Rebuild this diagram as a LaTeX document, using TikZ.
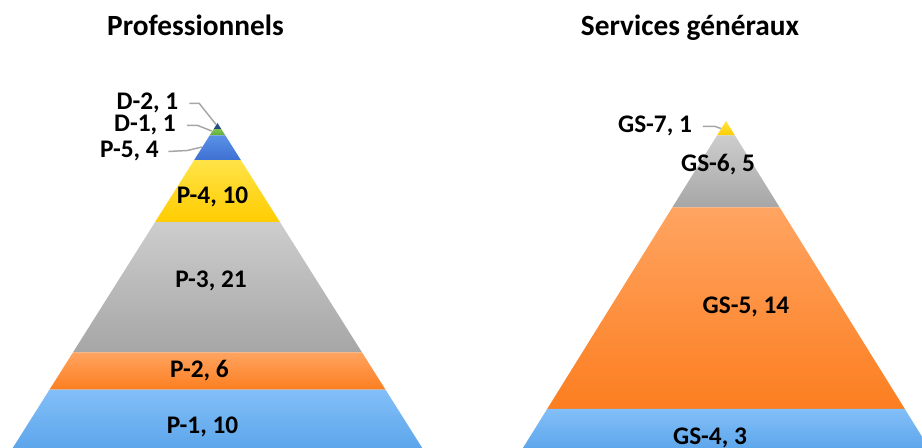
\documentclass[tikz,border=0pt]{standalone}
\usepackage{fontspec}
\setmainfont{Carlito}
\usetikzlibrary{positioning}

\definecolor{navyT}{HTML}{2F5597}
\definecolor{navyB}{HTML}{264478}
\definecolor{greenT}{HTML}{7CC552}
\definecolor{greenB}{HTML}{64AA3C}
\definecolor{royT}{HTML}{5A91E6}
\definecolor{royB}{HTML}{3E70D2}
\definecolor{yelT}{HTML}{FFE347}
\definecolor{yelB}{HTML}{FFCC00}
\definecolor{gryT}{HTML}{CDCDCD}
\definecolor{gryB}{HTML}{A6A6A6}
\definecolor{orgT}{HTML}{FFA461}
\definecolor{orgB}{HTML}{FC7E20}
\definecolor{bluT}{HTML}{83BFF8}
\definecolor{bluB}{HTML}{5AA4EA}
\definecolor{leadgray}{HTML}{A6A6A6}

\tikzset{
  ttl/.style={font=\bfseries\fontsize{22}{22}\selectfont, inner sep=0pt, anchor=base},
  lbl/.style={font=\bfseries\fontsize{19}{19}\selectfont, inner sep=0pt, anchor=base},
  leader/.style={draw=leadgray, line width=1.1pt}
}

\begin{document}
\begin{tikzpicture}[x=0.75pt, y=-0.75pt]
    \useasboundingbox (0,0) rectangle (922,448);
    \clip (0,0) rectangle (922,448);
    % Professionnels pyramid
    \begin{scope}[shift={(217.5,123)}]
        \foreach \t/\b/\col in {0/1/navy, 1/2/green, 2/6/roy, 6/16/yel, 16/37/gry, 37/43/org, 43/53/blu} {
            \pgfmathsetmacro{\yt}{6.2*\t}
            \pgfmathsetmacro{\yb}{6.2*\b}
            \shade [top color=\col T, bottom color=\col B] (-0.63*\yt,\yt) -- (0.63*\yt,\yt) -- (0.63*\yb,\yb) -- (-0.63*\yb,\yb) -- cycle;
        }
    \end{scope}
    % Services generaux pyramid
    \begin{scope}[shift={(726,121)}]
        \foreach \t/\b/\col in {0/1/yel, 1/6/gry, 6/20/org, 20/23/blu} {
            \pgfmathsetmacro{\yt}{14.4*\t}
            \pgfmathsetmacro{\yb}{14.4*\b}
            \shade [top color=\col T, bottom color=\col B] (-0.621*\yt,\yt) -- (0.621*\yt,\yt) -- (0.621*\yb,\yb) -- (-0.621*\yb,\yb) -- cycle;
        }
    \end{scope}
    % Titles
    \node [ttl] (titlepro) at (195.5,36) {Professionnels};
    \node [ttl] (titlegs) at (690,36) {Services généraux};
    % Labels
    \node [lbl] (d2) at (147.5,110) {D-2, 1};
    \node [lbl] (d1) at (145,132) {D-1, 1};
    \node [lbl] (p5) at (129.5,158) {P-5, 4};
    \node [lbl] (p4) at (212.5,204) {P-4, 10};
    \node [lbl] (p3) at (211,287.3) {P-3, 21};
    \node [lbl] (p2) at (199.5,378) {P-2, 6};
    \node [lbl] (p1) at (202.5,434) {P-1, 10};
    \node [lbl] (gs7) at (655,133) {GS-7, 1};
    \node [lbl] (gs6) at (718,172) {GS-6, 5};
    \node [lbl] (gs5) at (746,313.3) {GS-5, 14};
    \node [lbl] (gs4) at (710,445) {GS-4, 3};
    % Leader lines
    \coordinate (d2tip) at (216,124.5);
    \coordinate (d1tip) at (211.7,131);
    \coordinate (p5tip) at (202,147);
    \coordinate (gs7tip) at (721,128.5);
    \draw [leader] ([xshift=8pt]d2.east) -- ++(10,0) -- (d2tip);
    \draw [leader] ([xshift=8pt]d1.east) -- ++(11,0) -- (d1tip);
    \draw [leader] ([xshift=7pt]p5.east) -- ++(19,-1) -- (p5tip);
    \draw [leader] ([xshift=8pt]gs7.east) -- ++(12,0) -- (gs7tip);
\end{tikzpicture}
\end{document}
